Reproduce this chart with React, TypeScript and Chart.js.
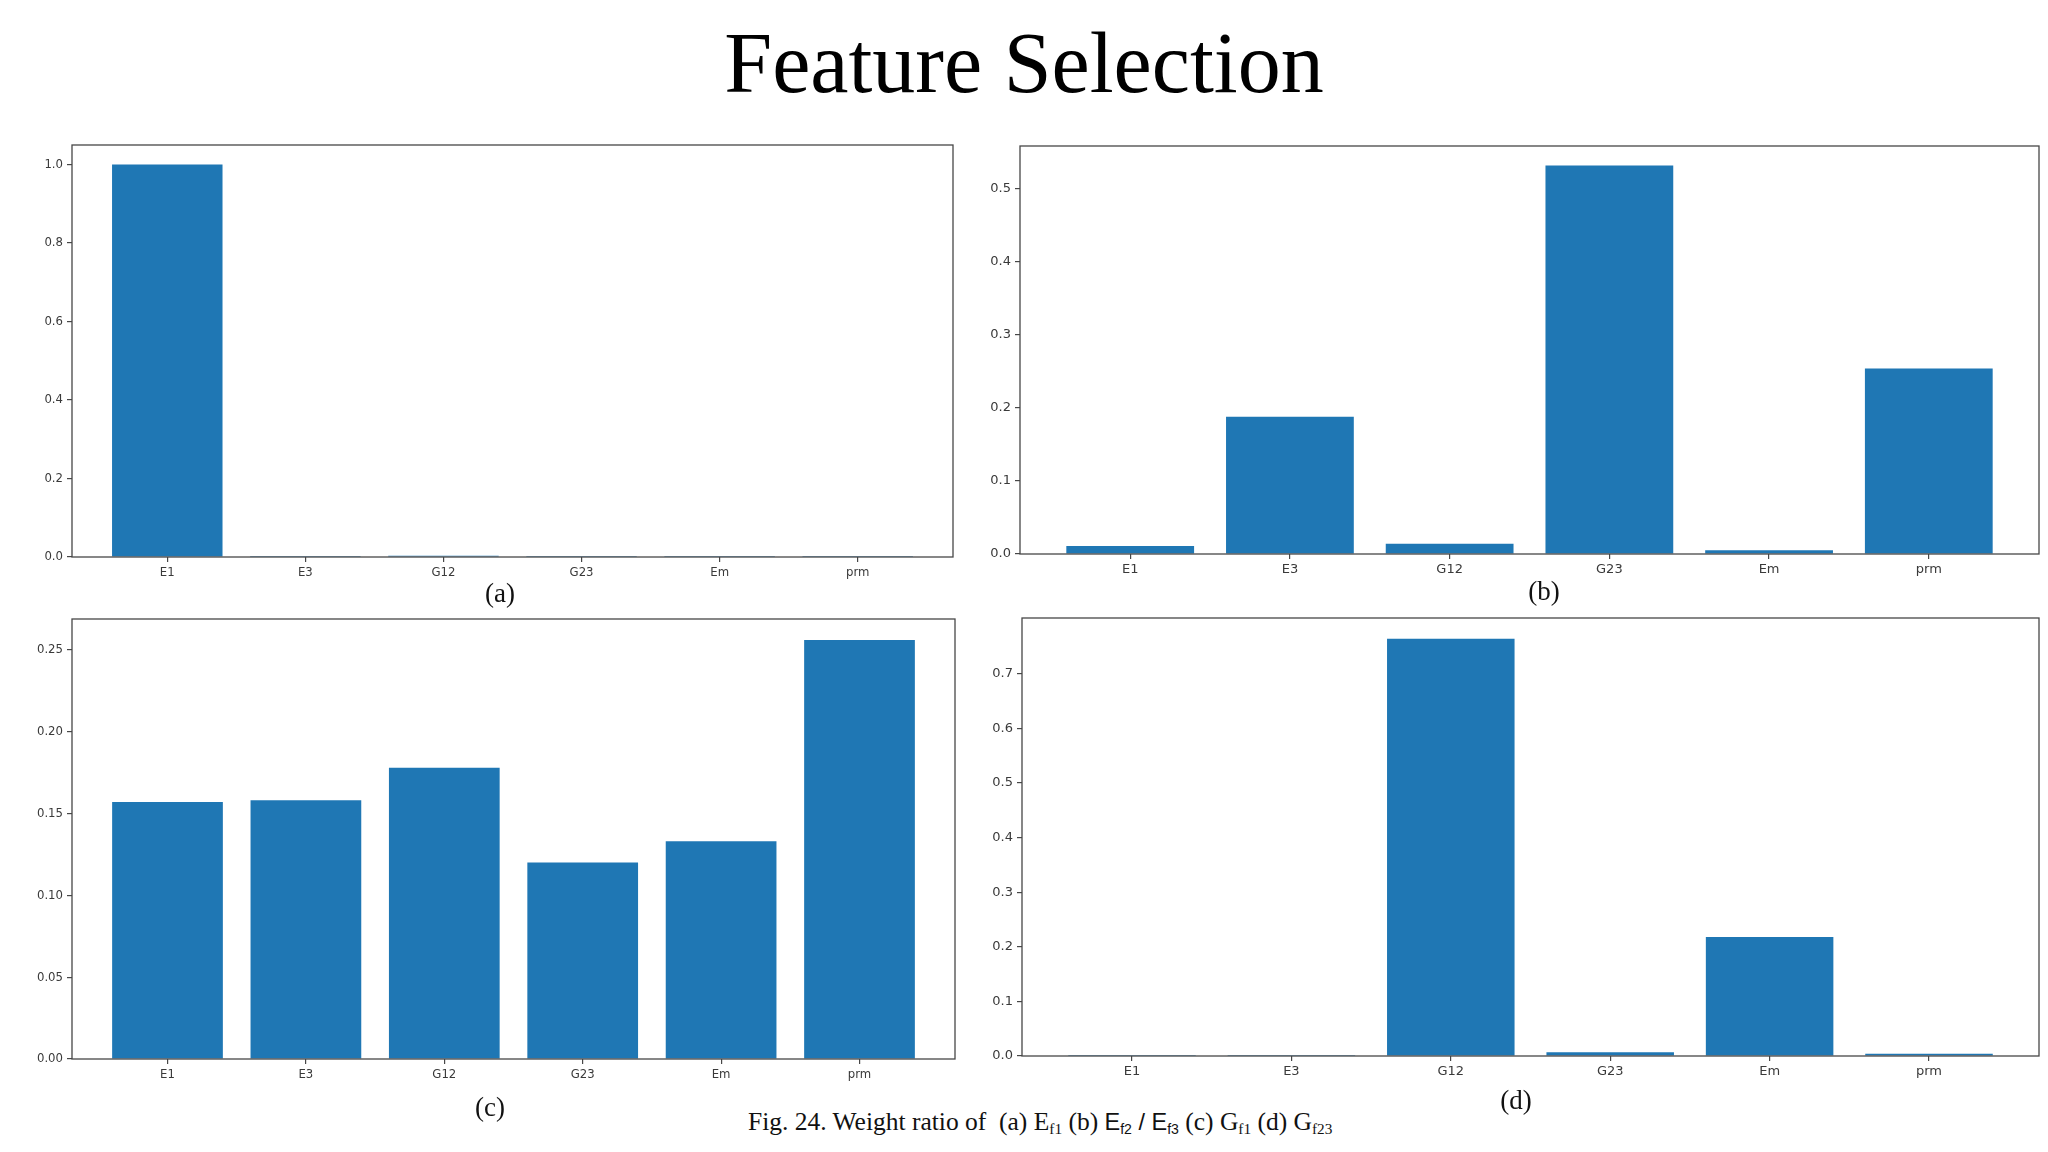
import { useEffect, useRef } from "react";
import { Chart, registerables } from "chart.js";

Chart.register(...registerables);

// feature names on the x axis (same for all four panels)
const features = ["E1", "E3", "G12", "G23", "Em", "prm"];

// weight ratios
const weightsA = [0.999, 0.0003, 0.003, 0.0002, 0.0002, 0.0002];
const weightsB = [0.011, 0.188, 0.014, 0.532, 0.005, 0.254];
const weightsC = [0.157, 0.158, 0.178, 0.12, 0.133, 0.256];
const weightsD = [0.002, 0.002, 0.764, 0.007, 0.218, 0.004];

// y tick values per panel
const ticksA = [0, 0.2, 0.4, 0.6, 0.8, 1.0];
const ticksB = [0, 0.1, 0.2, 0.3, 0.4, 0.5];
const ticksC = [0, 0.05, 0.1, 0.15, 0.2, 0.25];
const ticksD = [0, 0.1, 0.2, 0.3, 0.4, 0.5, 0.6, 0.7];

const BAR = "#1f77b4";
const SPINE = "#474747";
const TICK_TEXT = "#3a3a3a";
const SERIF = "'Times New Roman', 'Liberation Serif', serif";
const SANS = "Arial, 'Liberation Sans', sans-serif";

const Y_W = 60; // space for y tick labels
const X_H = 40; // space for x tick labels
const PAD = 12;

// matplotlib-like x limits for 6 bars of width 0.8
const X_MIN = -0.69;
const X_MAX = 5.69;

const framePlugin = {
  id: "frame",
  afterDatasetsDraw(chart: any) {
    const { ctx, chartArea: a } = chart;
    ctx.save();
    ctx.strokeStyle = SPINE;
    ctx.lineWidth = 1.3;
    ctx.strokeRect(a.left, a.top, a.right - a.left, a.bottom - a.top);
    ctx.restore();
  },
};

type Rect = { left: number; top: number; right: number; bottom: number };

function Panel({
  values,
  yTicks,
  decimals,
  plot,
  condensed,
}: {
  values: number[];
  yTicks: number[];
  decimals: number;
  plot: Rect;
  condensed: boolean;
}) {
  const canvasRef = useRef<HTMLCanvasElement | null>(null);

  useEffect(() => {
    if (!canvasRef.current) return;
    const font = {
      family: condensed
        ? "'DejaVu Sans Condensed', 'DejaVu Sans', sans-serif"
        : "'DejaVu Sans', sans-serif",
      size: 13,
    };
    const grid = {
      display: true,
      offset: false,
      drawOnChartArea: false,
      drawTicks: true,
      tickLength: 5,
      color: SPINE,
      lineWidth: 1.2,
    };

    const chart = new Chart(canvasRef.current, {
      type: "bar",
      data: {
        datasets: [
          {
            data: values.map((v, i) => ({ x: i, y: v })),
            backgroundColor: BAR,
            borderWidth: 0,
            categoryPercentage: 0.8,
            barPercentage: 1.0,
          },
        ],
      },
      options: {
        animation: false,
        responsive: true,
        maintainAspectRatio: false,
        layout: { padding: { top: PAD, right: PAD, left: 0, bottom: 0 } },
        plugins: {
          legend: { display: false },
          tooltip: { enabled: false },
        },
        scales: {
          x: {
            type: "linear",
            min: X_MIN,
            max: X_MAX,
            offset: false,
            grid,
            border: { display: false },
            afterBuildTicks: (scale: any) => {
              scale.ticks = features.map((_, i) => ({ value: i }));
            },
            afterFit: (scale: any) => {
              scale.height = X_H;
            },
            ticks: {
              color: TICK_TEXT,
              font,
              padding: 3,
              maxRotation: 0,
              autoSkip: false,
              callback: (value: any) => features[value] ?? "",
            },
          },
          y: {
            min: 0,
            max: Math.max(...values) * 1.05,
            grid,
            border: { display: false },
            afterBuildTicks: (scale: any) => {
              scale.ticks = yTicks.map((v) => ({ value: v }));
            },
            afterFit: (scale: any) => {
              scale.width = Y_W;
            },
            ticks: {
              color: TICK_TEXT,
              font,
              padding: 4,
              callback: (value: any) => Number(value).toFixed(decimals),
            },
          },
        },
      } as any,
      plugins: [framePlugin],
    });

    return () => {
      chart.destroy();
    };
  }, []);

  return (
    <div
      style={{
        position: "absolute",
        left: plot.left - Y_W,
        top: plot.top - PAD,
        width: plot.right - plot.left + Y_W + PAD,
        height: plot.bottom - plot.top + PAD + X_H,
      }}
    >
      <canvas ref={canvasRef}></canvas>
    </div>
  );
}

function Label({ text, x, baseline }: { text: string; x: number; baseline: number }) {
  const size = 27;
  return (
    <div
      style={{
        position: "absolute",
        left: x - 100,
        width: 200,
        top: baseline - 0.8375 * size,
        textAlign: "center",
        fontFamily: SERIF,
        fontSize: size,
        lineHeight: 1,
        color: "#111",
      }}
    >
      {text}
    </div>
  );
}

const subStyle = {
  fontSize: "0.6em",
  verticalAlign: "-0.28em",
  lineHeight: 0,
};

export default function App() {
  return (
    <div
      style={{
        position: "absolute",
        left: 0,
        top: 0,
        width: 2048,
        height: 1152,
        overflow: "hidden",
        background: "#fff",
      }}
    >
      <div
        style={{
          position: "absolute",
          left: 0,
          width: 2048,
          top: 20,
          textAlign: "center",
          fontFamily: SERIF,
          fontSize: 86,
          lineHeight: 1,
          color: "#000",
        }}
      >
        Feature Selection
      </div>

      <Panel values={weightsA} yTicks={ticksA} decimals={1} condensed
        plot={{ left: 72, top: 145, right: 953, bottom: 557 }} />
      <Panel values={weightsB} yTicks={ticksB} decimals={1} condensed={false}
        plot={{ left: 1020, top: 146, right: 2039, bottom: 554 }} />
      <Panel values={weightsC} yTicks={ticksC} decimals={2} condensed
        plot={{ left: 72, top: 619, right: 955, bottom: 1059 }} />
      <Panel values={weightsD} yTicks={ticksD} decimals={1} condensed={false}
        plot={{ left: 1022, top: 618, right: 2039, bottom: 1056 }} />

      <Label text="(a)" x={500} baseline={603} />
      <Label text="(b)" x={1544} baseline={601} />
      <Label text="(c)" x={490} baseline={1117} />
      <Label text="(d)" x={1516} baseline={1110} />

      <div
        style={{
          position: "absolute",
          left: 748,
          top: 1130 - 0.8375 * 25.5,
          fontFamily: SERIF,
          fontSize: 25.5,
          lineHeight: 1,
          whiteSpace: "pre",
          color: "#111",
        }}
      >
        {"Fig. 24. Weight ratio of  (a) E"}
        <span style={subStyle}>f1</span>
        {" (b) "}
        <span style={{ fontFamily: SANS, fontSize: "0.92em" }}>
          {"E"}
          <span style={subStyle}>f2</span>
          {" / E"}
          <span style={subStyle}>f3</span>
        </span>
        {" (c) G"}
        <span style={subStyle}>f1</span>
        {" (d) G"}
        <span style={subStyle}>f23</span>
      </div>
    </div>
  );
}
